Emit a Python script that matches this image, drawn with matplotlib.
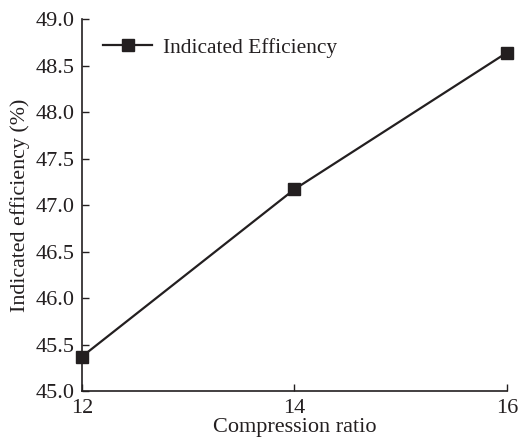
import matplotlib
matplotlib.use("Agg")
import matplotlib.pyplot as plt

compression_ratio = [12, 14, 16]
indicated_efficiency = [45.37, 47.17, 48.64]
x_ticks = [12, 14, 16]
y_ticks = [45.0, 45.5, 46.0, 46.5, 47.0, 47.5, 48.0, 48.5, 49.0]

plt.rcParams['font.family'] = ['Liberation Serif', 'DejaVu Serif']
plt.rcParams['font.size'] = 16

fig = plt.figure(figsize=(5.21, 4.45), dpi=100)
ax = fig.add_axes([0.157, 0.121, 0.816, 0.836])

ax.plot(compression_ratio, indicated_efficiency, color='#231f20', lw=1.6,
        marker='s', markersize=8, markerfacecolor='#231f20',
        markeredgecolor='#231f20', label='Indicated Efficiency',
        clip_on=False, zorder=5)

ax.set_xlim(12, 16)
ax.set_ylim(45.0, 49.0)
ax.set_xticks(x_ticks)
ax.set_yticks(y_ticks)
ax.set_yticklabels([f"{v:.1f}" for v in y_ticks])
ax.tick_params(direction='in', length=5, width=1, color='#231f20',
               labelcolor='#231f20', labelsize=16)
ax.tick_params(axis='y', pad=5)
ax.tick_params(axis='x', pad=6)
for side in ('top', 'right'):
    ax.spines[side].set_visible(False)
for side in ('left', 'bottom'):
    ax.spines[side].set_linewidth(1.2)
    ax.spines[side].set_color('#231f20')

ax.set_xlabel('Compression ratio', fontsize=16, color='#231f20', labelpad=0)
ax.set_ylabel('Indicated efficiency (%)', fontsize=15.8, color='#231f20', labelpad=4)

ax.legend(loc='upper left', frameon=False, fontsize=15.4, handlelength=2.3,
          handletextpad=0.5, bbox_to_anchor=(0.02, 0.985), borderaxespad=0.2,
          labelcolor='#231f20')

fig.savefig('out.png', dpi=100)
